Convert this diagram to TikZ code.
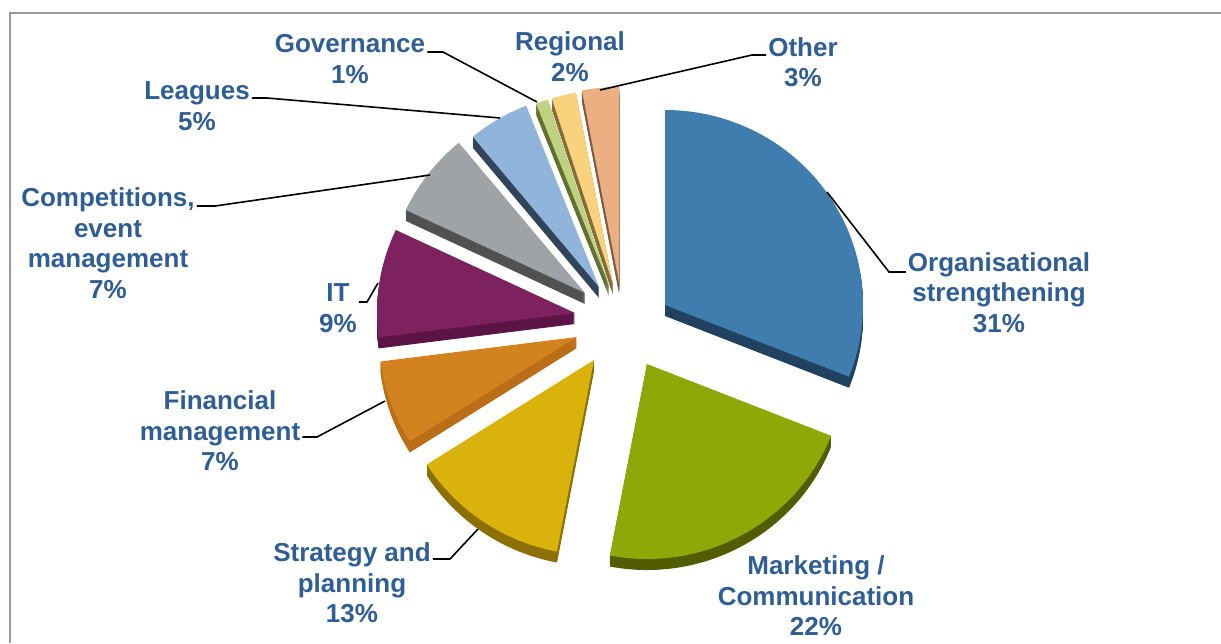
\documentclass[tikz,border=0pt]{standalone}
\usepackage{fontspec}
\setmainfont{Liberation Sans}
\definecolor{lbl}{RGB}{47,94,150}
\definecolor{orgT}{RGB}{62,125,173}\definecolor{orgS}{RGB}{33,65,96}
\definecolor{mktT}{RGB}{142,168,8}\definecolor{mktS}{RGB}{82,92,0}
\definecolor{strT}{RGB}{218,178,12}\definecolor{strS}{RGB}{140,112,4}
\definecolor{finT}{RGB}{210,130,30}\definecolor{finS}{RGB}{188,110,22}
\definecolor{itT}{RGB}{125,33,95}\definecolor{itS}{RGB}{92,20,70}
\definecolor{cmpT}{RGB}{160,163,165}\definecolor{cmpS}{RGB}{80,82,82}
\definecolor{lgT}{RGB}{145,180,220}\definecolor{lgS}{RGB}{50,68,90}
\definecolor{gvT}{RGB}{190,210,130}\definecolor{gvS}{RGB}{100,112,50}
\definecolor{rgT}{RGB}{250,210,125}\definecolor{rgS}{RGB}{130,108,55}
\definecolor{otT}{RGB}{235,175,130}\definecolor{otS}{RGB}{125,92,65}
\newcommand\myslice[6]{%
  \foreach \s in {1,...,11}{%
    \fill[#6] (#1,#2+\s) -- ++({#3-90}:198 and 195)
      arc[start angle={#3-90}, end angle={#4-90}, x radius=198, y radius=195] -- cycle;}
  \fill[#5] (#1,#2) -- ++({#3-90}:198 and 195)
      arc[start angle={#3-90}, end angle={#4-90}, x radius=198, y radius=195] -- cycle;}
\begin{document}
\begin{tikzpicture}[x=1pt,y=-1pt,
  lab/.style={text=lbl, align=center, inner sep=2pt,
    font=\fontsize{26}{30.5}\selectfont\bfseries},
  leader/.style={draw=black, line width=1.6pt},
  frame/.style={draw=black!40, line width=1.6pt}]
\useasboundingbox (0,0) rectangle (1221,643);
\fill[white] (0,0) rectangle (1221,643);
\draw[frame] (10,643) -- (10,13) -- (1221,13);
% slices, back to front
\myslice{619}{282}{349.2}{360}{otT}{otS}
\myslice{613}{284}{342}{349.2}{rgT}{rgS}
\myslice{609}{285}{338.4}{342}{gvT}{gvS}
\myslice{599}{287}{320.4}{338.4}{lgT}{lgS}
\myslice{585}{293}{295.2}{320.4}{cmpT}{cmpS}
\myslice{665}{305}{0}{111.6}{orgT}{orgS}
\myslice{575}{313}{262.8}{295.2}{itT}{itS}
\myslice{577}{337}{237.6}{262.8}{finT}{finS}
\myslice{594}{360}{190.8}{237.6}{strT}{strS}
\myslice{647}{364}{111.6}{190.8}{mktT}{mktS}
% labels
\node[lab] (lGov) at (350,59) {Governance\\1\%};
\node[lab] (lReg) at (570,56.5) {Regional\\2\%};
\node[lab] (lOth) at (803,62) {Other\\3\%};
\node[lab] (lLea) at (197,106) {Leagues\\5\%};
\node[lab] (lCmp) at (108,243) {Competitions,\\event\\management\\7\%};
\node[lab] (lIT) at (338,308) {IT\\9\%};
\node[lab] (lFin) at (220,431) {Financial\\management\\7\%};
\node[lab] (lStr) at (352,583) {Strategy and\\planning\\13\%};
\node[lab] (lMkt) at (816,596) {Marketing /\\Communication\\22\%};
\node[lab] (lOrg) at (999,292.5) {Organisational\\strengthening\\31\%};
% leader points
\coordinate (pGov) at (537,102); \coordinate (kGov) at (443,52);
\coordinate (pLea) at (500,118); \coordinate (kLea) at (267,98);
\coordinate (pCmp) at (430,175); \coordinate (kCmp) at (215,206);
\coordinate (pIT) at (378,283);  \coordinate (kIT) at (367,302);
\coordinate (pFin) at (385,401); \coordinate (kFin) at (317,437);
\coordinate (pStr) at (478,529); \coordinate (kStr) at (450,559);
\coordinate (pOrg) at (827,192); \coordinate (kOrg) at (889,272);
\coordinate (pOth) at (600,90);  \coordinate (kOth) at (752,55);
\draw[leader] (pGov) -- (kGov) -- (lGov.east |- kGov);
\draw[leader] (pLea) -- (kLea) -- (lLea.east |- kLea);
\draw[leader] (pCmp) -- (kCmp) -- (lCmp.east |- kCmp);
\draw[leader] (pIT) -- (kIT) -- (lIT.east |- kIT);
\draw[leader] (pFin) -- (kFin) -- (lFin.east |- kFin);
\draw[leader] (pStr) -- (kStr) -- (lStr.east |- kStr);
\draw[leader] (pOrg) -- (kOrg) -- (lOrg.west |- kOrg);
\draw[leader] (pOth) -- (kOth) -- (lOth.west |- kOth);
\end{tikzpicture}
\end{document}
